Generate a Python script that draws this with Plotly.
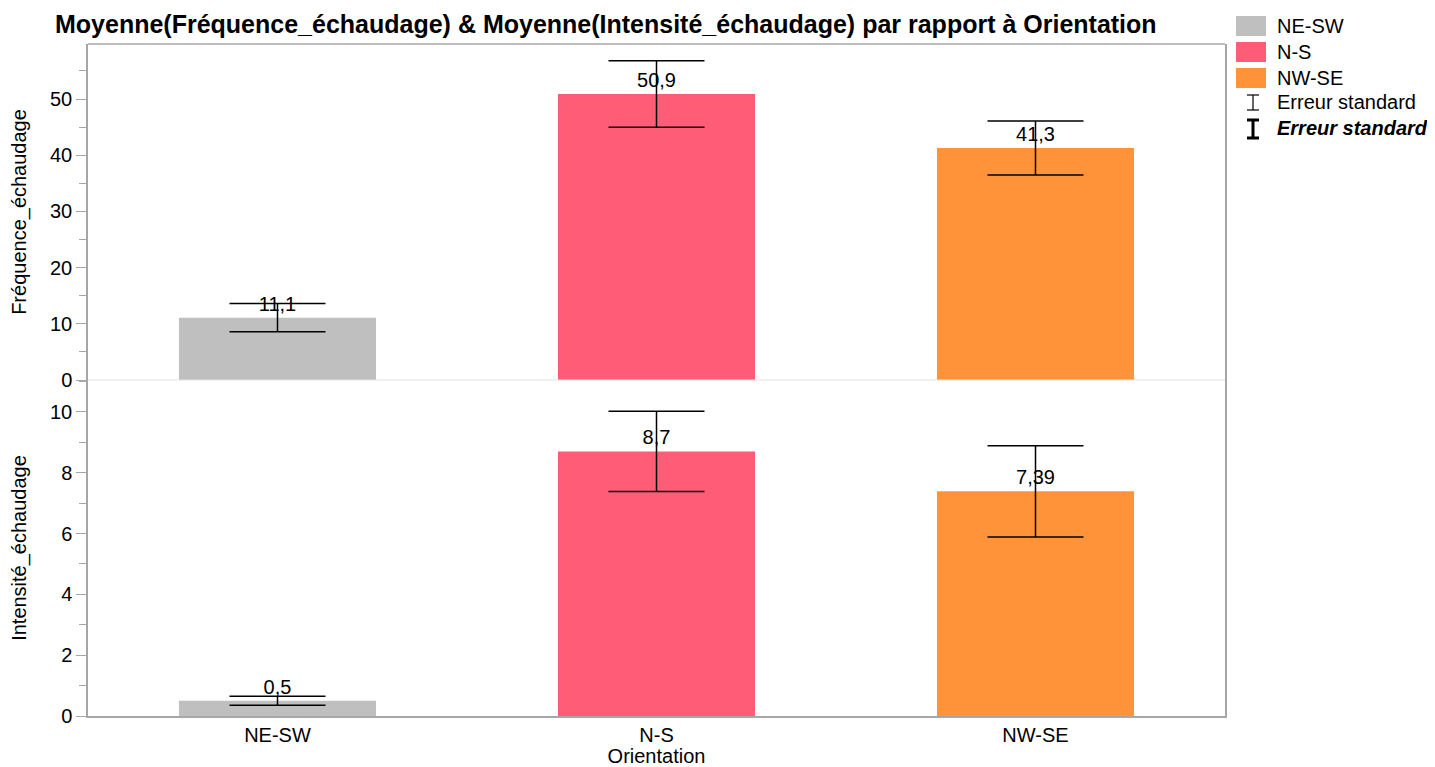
import plotly.graph_objects as go
from plotly.subplots import make_subplots

# Data
orientations = ["NE-SW", "N-S", "NW-SE"]
frequence_moy = [11.1, 50.9, 41.3]
frequence_se = [2.5, 5.9, 4.8]
intensite_moy = [0.5, 8.7, 7.39]
intensite_se = [0.15, 1.32, 1.5]
bar_colors = ["#BFBFBF", "#FF5C77", "#FF9339"]

FONT = "Liberation Sans, Arial, Helvetica, sans-serif"
FS = 20
GRAY = "#A6A6A6"

# page body has an 8px margin, so the figure is sized to fit inside it
FIG_W, FIG_H = 1427, 759
W, H, L, T = 1137, 672, 80, 36
R = FIG_W - L - W
B = FIG_H - T - H
OFF = 8  # page offset, used to convert reference pixel positions

fig = make_subplots(rows=2, cols=1, shared_xaxes=True, vertical_spacing=0)


def fmt(v):
    return ("%g" % v).replace(".", ",")


for row, (vals, errs) in enumerate([(frequence_moy, frequence_se),
                                     (intensite_moy, intensite_se)], start=1):
    fig.add_trace(go.Bar(
        x=orientations, y=vals,
        marker=dict(color=bar_colors, line=dict(width=0)),
        width=0.52,
        text=[fmt(v) for v in vals],
        textposition="outside",
        textfont=dict(size=FS, color="black", family=FONT),
        cliponaxis=False,
        error_y=dict(type="data", array=errs, visible=True,
                     color="black", thickness=1.5, width=48),
        showlegend=False,
    ), row=row, col=1)

yaxis_common = dict(showline=True, linecolor=GRAY, linewidth=1.5, mirror=True,
                    zeroline=False, showgrid=False, automargin=False,
                    ticks="outside", ticklen=10, tickwidth=1, tickcolor=GRAY)

fig.update_yaxes(range=[0, 59.8], dtick=10,
                 minor=dict(dtick=5, ticks="outside", ticklen=7, tickcolor=GRAY),
                 title=dict(text="Fréquence_échaudage", font=dict(size=FS), standoff=22),
                 row=1, col=1, **yaxis_common)
fig.update_yaxes(range=[0, 11.05], dtick=2,
                 minor=dict(dtick=1, ticks="outside", ticklen=7, tickcolor=GRAY),
                 title=dict(text="Intensité_échaudage", font=dict(size=FS), standoff=22),
                 row=2, col=1, **yaxis_common)
fig.update_xaxes(showline=False, ticks="", automargin=False, showgrid=False,
                 zeroline=False, row=1, col=1)
fig.update_xaxes(showline=True, linecolor=GRAY, linewidth=1.5, mirror=False,
                 ticks="", automargin=False, showgrid=False, zeroline=False,
                 title=dict(text="Orientation", font=dict(size=FS), standoff=0),
                 row=2, col=1)


# reference pixel -> paper coordinates
def px(x):
    return (x - OFF - L) / W


def py(y):
    return (T + H - (y - OFF)) / H


shapes = [
    dict(type="line", xref="paper", yref="paper", x0=0, x1=1, y0=1, y1=1,
         line=dict(color=GRAY, width=1.5)),
    dict(type="line", xref="paper", yref="paper", x0=0, x1=1, y0=0.5, y1=0.5,
         line=dict(color="#E3E3E3", width=1)),
]
annotations = []
for i, (name, col) in enumerate(zip(orientations, bar_colors)):
    y0 = 16 + i * 26
    shapes.append(dict(type="rect", xref="paper", yref="paper",
                       x0=px(1236), x1=px(1266), y0=py(y0 + 20), y1=py(y0),
                       fillcolor=col, line=dict(width=0)))
    annotations.append(dict(xref="paper", yref="paper", x=px(1275), y=py(y0 + 10),
                            xanchor="left", yanchor="middle", showarrow=False,
                            text=name, font=dict(size=FS, color="black")))

# error bar symbols
for (ytop, ybot, w) in [(95, 110, 1.2), (120, 138, 3)]:
    shapes.append(dict(type="line", xref="paper", yref="paper",
                       x0=px(1253), x1=px(1253), y0=py(ytop), y1=py(ybot),
                       line=dict(color="black", width=w)))
    for yy in (ytop, ybot):
        shapes.append(dict(type="line", xref="paper", yref="paper",
                           x0=px(1247), x1=px(1259), y0=py(yy), y1=py(yy),
                           line=dict(color="black", width=w)))
annotations.append(dict(xref="paper", yref="paper", x=px(1275), y=py(102),
                        xanchor="left", yanchor="middle", showarrow=False,
                        text="Erreur standard", font=dict(size=FS, color="black")))
annotations.append(dict(xref="paper", yref="paper", x=px(1275), y=py(128),
                        xanchor="left", yanchor="middle", showarrow=False,
                        text="<b><i>Erreur standard</i></b>",
                        font=dict(size=FS, color="black")))

fig.update_layout(
    width=FIG_W, height=FIG_H,
    margin=dict(l=L, r=R, t=T, b=B, autoexpand=False),
    paper_bgcolor="white", plot_bgcolor="white",
    font=dict(family=FONT, size=FS, color="black"),
    title=dict(text="<b>Moyenne(Fréquence_échaudage) & Moyenne(Intensité_échaudage) par rapport à Orientation</b>",
               x=(55 - OFF) / FIG_W, xanchor="left",
               y=1 - (24 - OFF) / FIG_H, yanchor="middle",
               font=dict(size=25)),
    bargap=0.48,
    shapes=shapes,
    annotations=annotations,
    showlegend=False,
)

fig.write_html("out.html")
